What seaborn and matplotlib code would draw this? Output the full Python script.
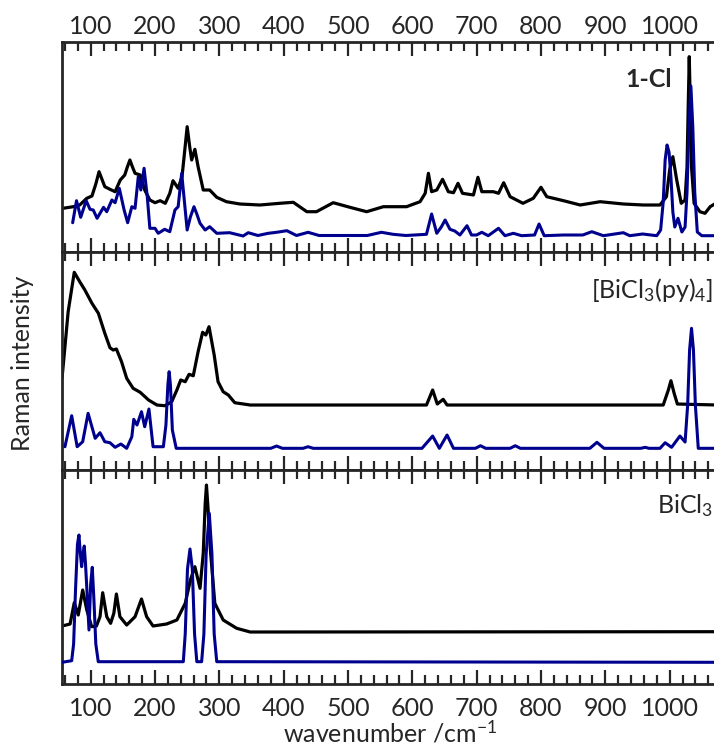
import matplotlib
matplotlib.use("Agg")
import matplotlib.pyplot as plt
import matplotlib.transforms as mtransforms
from matplotlib.ticker import MultipleLocator
import seaborn as sns
import pandas as pd

# ---------------- data (wavenumber / cm-1, Raman intensity a.u.) ----------------
p1_black_wn = [55.5, 57, 73, 83, 94, 102, 108, 113, 118, 122, 130, 138, 146, 153, 157, 161, 165, 169, 177, 184,
               192, 200, 208, 216, 223, 228, 236, 242, 246, 250, 254, 257, 262, 267, 275, 285, 296, 311, 332,
               363, 394, 415, 436, 451, 477, 503, 529, 555, 591, 612, 620, 625, 630, 638, 647, 656, 664, 671,
               678, 695, 702, 708, 726, 734, 742, 752, 772, 788, 800, 809, 835, 861, 892, 928, 959, 985, 995,
               1000, 1005, 1011, 1018, 1024, 1027, 1029, 1030.5, 1032, 1034, 1038, 1047, 1055, 1063, 1075]
p1_black_int = [43.5, 43.7, 45.3, 47, 53.7, 56, 68, 80.3, 72, 65.3, 62.7, 60.3, 72, 77, 85, 92, 85, 78.7, 77, 62,
                52, 49.3, 51.3, 48.7, 58.7, 71.3, 63.7, 75.3, 100, 125.3, 105, 92, 102.7, 85.3, 62, 62, 54.7, 50.3, 48,
                47, 48.7, 49.7, 40.3, 40.3, 49.3, 44.7, 40.3, 45.3, 45.3, 50.3, 58.7, 78.7, 60.3, 62, 72.7, 60.3, 59.3, 68.7,
                58.7, 57, 74.7, 60.3, 60.3, 58.7, 69.3, 55.3, 48.7, 53.7, 64.7, 55.3, 51.3, 47, 50.3, 48, 47, 47, 55.3,
                82, 95.3, 72, 48.7, 52, 85, 150, 195.3, 150, 85, 48.7, 40.3, 38.7, 45.3, 50]

p1_blue_wn = [72, 78, 84.5, 93, 99, 104, 110, 120, 125, 133, 138, 144.5, 152, 157.5, 164, 169, 174, 178, 183, 188,
              192, 200, 205, 215, 223, 231, 236, 241.5, 247, 250, 255, 260.6, 265, 270, 278, 285, 296, 316, 337,
              345, 360, 376, 389, 405, 420, 438, 455, 530, 552, 570, 590, 622, 630, 638, 645, 651, 658.5, 666, 674,
              685, 692, 700, 708, 718, 734, 744, 757, 770, 790, 797, 805, 835, 865, 879, 897, 928, 938, 958, 980,
              986, 990, 993, 996, 999, 1002, 1005, 1008, 1013, 1019, 1024, 1027, 1030, 1033, 1036, 1039, 1043, 1050, 1075]
p1_blue_int = [29.3, 51.3, 34.7, 51.3, 42.7, 42, 33.7, 44.7, 40.3, 52, 49.3, 63.7, 42, 29.3, 45.3, 43.7, 75.3, 62, 83.7, 55.3,
               23.7, 23.7, 18.7, 22.7, 20.3, 42, 45.3, 78.7, 42, 22, 35, 45.3, 38, 28.7, 22, 25.3, 18.7, 19.3, 16,
               19.3, 16.5, 18.7, 19.7, 21.3, 16.5, 19.7, 16.5, 16.5, 19.7, 17.7, 16.5, 17.7, 38, 18.7, 25, 32, 22.7, 21, 17,
               26.3, 17, 17, 19.7, 16.3, 23.7, 16.3, 18.7, 16.3, 17, 28, 16.3, 17, 17, 20.3, 16.3, 19.3, 16.3, 18, 16.3,
               22, 50, 92, 107, 100, 75, 40, 25, 33.7, 20, 25, 60, 125, 166, 125, 60, 20, 16.3, 16.3]

p2_black_wn = [55.5, 57.4, 65, 74.5, 83, 91, 102, 112, 122, 130, 135, 140, 148, 156, 166, 177, 190, 203, 215.5, 226,
               234, 240, 247, 253, 259.5, 267, 274, 279, 284, 292, 298, 306, 314, 324, 348, 622, 631.6, 638.8, 648,
               654, 990, 998, 1002, 1007, 1012, 1075]
p2_black_int = [92, 105, 158.3, 197.7, 188.3, 180, 166.7, 156.7, 136.7, 122.3, 120, 121, 108.3, 91.7, 81.7, 77.7, 70, 65,
                64.3, 68.3, 80, 90, 88.3, 95.7, 94.3, 118.3, 137.7, 135, 143.3, 115, 88.3, 78.3, 75, 67.3, 65, 65, 80, 66,
                70.7, 65, 65, 80, 89.3, 76.7, 66, 65]

p2_blue_wn = [60, 70.5, 79, 87.6, 96, 107, 114.5, 122, 130, 138, 147, 156, 164, 167, 172, 179, 184, 190.6, 197, 213,
              217, 220, 222, 224, 227, 233, 380, 389, 398, 430, 438, 446, 615, 631.6, 642, 654, 664, 698, 706, 714, 752, 760,
              768, 876, 887, 898, 955, 962, 968, 985, 993, 1003, 1016, 1024, 1028, 1031, 1034, 1037, 1040, 1044.5, 1075]
p2_blue_int = [23.3, 54.3, 23.3, 28.3, 56.7, 31.7, 37.3, 28.3, 27.3, 22.7, 26, 21.7, 33.3, 50.7, 45, 58.3, 43.3, 61, 23.3,
               23.3, 45, 85, 98.3, 85, 40, 21.7, 21.7, 24, 21.7, 21.7, 23.3, 21.7, 21.7, 34, 21.7, 35, 21.7, 21.7, 24.3, 21.7,
               21.7, 24.3, 21.7, 21.7, 27.7, 21.7, 21.7, 22.7, 21.7, 21.7, 27.3, 22.7, 34, 28, 65, 120, 141.7, 120, 65,
               21.7, 21.7]

p3_black_wn = [55.5, 68, 74.5, 80.7, 87.6, 94, 101.6, 109, 114.5, 118.7, 125, 131, 136, 140, 145.5, 156, 169, 179, 187,
               197, 218, 234, 247, 255, 262, 270, 275, 278, 280, 282.5, 286.5, 293, 306, 327, 348, 1075]
p3_black_int = [58, 60, 81.3, 69, 94, 74, 57.3, 58, 67.3, 91.3, 67.3, 60.7, 70.7, 90, 67.3, 59, 67.3, 85, 67.3,
                58, 60, 64, 80.7, 104, 117.3, 95.7, 130.7, 180, 199, 175, 130.7, 80.7, 64, 55.7, 52, 52.3]

p3_blue_wn = [55.5, 70.5, 73.5, 76.5, 79.5, 81.8, 84, 86, 88, 90, 92, 94.5, 97.4, 100, 102.5, 105, 108, 111.8,
              244, 247, 250.5, 254.4, 258, 261.5, 265, 272.5, 276, 279.5, 284.4, 288.5, 292, 296, 1075]
p3_blue_int = [21.7, 23.3, 40, 95, 140, 149, 130, 117.3, 130, 138, 120, 90, 54, 100, 116.7, 85, 40, 22.3,
               22.3, 50, 115, 135, 115, 50, 22.3, 22.3, 50, 130, 170.7, 130, 50, 22.3, 21.7]

panel_labels = ["1-Cl", r"[BiCl$_3$(py)$_4$]", r"BiCl$_3$"]
x_ticks = [100, 200, 300, 400, 500, 600, 700, 800, 900, 1000]

# ---------------- style ----------------
sns.set_style("ticks")
plt.rcParams["font.family"] = ["Lato", "DejaVu Sans"]
plt.rcParams["mathtext.fontset"] = "custom"
plt.rcParams["mathtext.rm"] = "Lato"
plt.rcParams["mathtext.it"] = "Lato:italic"
plt.rcParams["mathtext.bf"] = "Lato:bold"
plt.rcParams["xtick.direction"] = "in"
plt.rcParams["ytick.direction"] = "in"

BLACK = "#000000"
BLUE = "#00008F"
FS = 18

fig = plt.figure(figsize=(7.14, 7.5), dpi=100)
left, right = 0.0868, 1.005
bounds = [(0.664, 0.944), (0.3733, 0.664), (0.088, 0.3733)]
ylims = [210, 218, 214]
series = [
    (p1_black_wn, p1_black_int, p1_blue_wn, p1_blue_int),
    (p2_black_wn, p2_black_int, p2_blue_wn, p2_blue_int),
    (p3_black_wn, p3_black_int, p3_blue_wn, p3_blue_int),
]
label_y = [0.82, 0.826, 0.836]
label_x = [1003, 1068, 1068]

axes = []
for i, ((b, t), (bw, bi, uw, ui)) in enumerate(zip(bounds, series)):
    ax = fig.add_axes([left, b, right - left, t - b])
    axes.append(ax)
    dfb = pd.DataFrame({"wn": bw, "I": bi})
    dfu = pd.DataFrame({"wn": uw, "I": ui})
    sns.lineplot(data=dfb, x="wn", y="I", ax=ax, color=BLACK, lw=2.3, estimator=None, sort=False, zorder=2)
    sns.lineplot(data=dfu, x="wn", y="I", ax=ax, color=BLUE, lw=2.2, estimator=None, sort=False, zorder=3)
    ax.set_xlim(55.4, 1074.5)
    ax.set_ylim(0, ylims[i])
    ax.set_xlabel("")
    ax.set_ylabel("")
    ax.set_yticks([])
    ax.set_xticks(x_ticks)
    ax.xaxis.set_minor_locator(MultipleLocator(20))
    ax.tick_params(axis="x", which="both", direction="in", top=True, bottom=True,
                   labelbottom=(i == 2), labeltop=(i == 0), labelsize=FS, width=1.6)
    ax.tick_params(axis="x", which="major", length=10, pad=3 if i == 0 else 9)
    ax.tick_params(axis="x", which="minor", length=6.5)
    for sp in ax.spines.values():
        sp.set_linewidth(2.0)
        sp.set_visible(True)
    weight = "bold" if i == 0 else "normal"
    trans = mtransforms.blended_transform_factory(ax.transData, ax.transAxes)
    ax.text(label_x[i], label_y[i], panel_labels[i], transform=trans, ha="right", va="center",
            fontsize=FS, fontweight=weight)

fig.text(0.031, 0.516, "Raman intensity", rotation=90, ha="center", va="center", fontsize=FS)
fig.text(0.546, 0.005, r"wavenumber /cm$^{-1}$", ha="center", va="bottom", fontsize=FS)

fig.savefig("out.png", dpi=100)
